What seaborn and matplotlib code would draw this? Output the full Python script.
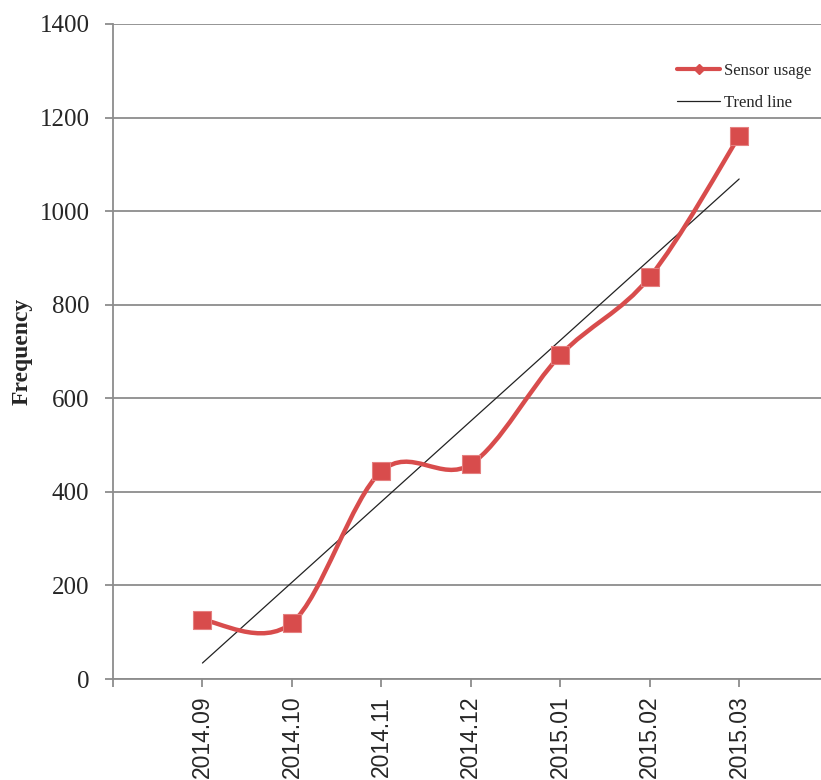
"""
Monthly sensor usage with a smoothed line and a linear trend line.
"""
import matplotlib.pyplot as plt
import numpy as np
import seaborn as sns
from matplotlib.lines import Line2D
from matplotlib.patches import PathPatch
from matplotlib.path import Path

months = ["2014.09", "2014.10", "2014.11", "2014.12", "2015.01", "2015.02", "2015.03"]
usage = [126, 120, 444, 459, 692, 859, 1160]

RED = "#d84c4c"
GRID = "#8c8c8c"

sns.set_style("white")
plt.rcParams["font.family"] = ["Liberation Serif", "DejaVu Serif"]

fig = plt.figure(figsize=(8.21, 7.8), dpi=100)
# the plot area runs past the right edge of the picture, as in the original
ax = fig.add_axes([113 / 821, 101 / 780, 715.6 / 821, 655 / 780])

xs = np.arange(len(months))

# linear trend line fitted to the data
slope, intercept = np.polyfit(xs, usage, 1)
sns.lineplot(x=xs, y=intercept + slope * xs, color="#222222", linewidth=0.9,
             ax=ax, zorder=3)

# smoothed line (Catmull-Rom style bezier through the points)
pts = np.column_stack([xs, usage]).astype(float)
ext = np.vstack([pts[0], pts, pts[-1]])
verts = [pts[0]]
codes = [Path.MOVETO]
for i in range(len(pts) - 1):
    p0, p1, p2, p3 = ext[i], ext[i + 1], ext[i + 2], ext[i + 3]
    verts += [p1 + (p2 - p0) / 6, p2 - (p3 - p1) / 6, p2]
    codes += [Path.CURVE4] * 3
ax.add_patch(PathPatch(Path(verts, codes), fill=False, edgecolor=RED,
                       linewidth=3.2, capstyle="round", zorder=4))

sns.scatterplot(x=xs, y=usage, marker="s", s=150, color=RED,
                edgecolor="#e58080", linewidth=0.8, ax=ax, zorder=5)

ax.set_xlim(-1, 7)
ax.set_ylim(0, 1400)
ax.set_yticks(range(0, 1401, 200))
ax.set_xticks(range(-1, len(months)))
ax.set_xticklabels([""] + months, rotation=90, fontsize=16.5,
                   family=["Liberation Sans", "DejaVu Sans"])
ax.tick_params(axis="y", labelsize=18, length=6, width=1.3, color=GRID,
               direction="out", pad=11, left=True)
ax.tick_params(axis="x", length=6, width=1.3, color=GRID, direction="out",
               pad=6, bottom=True)

ax.yaxis.grid(True, color=GRID, linewidth=1.3)
ax.set_axisbelow(True)
for side in ["top", "right"]:
    ax.spines[side].set_visible(False)
for side in ["left", "bottom"]:
    ax.spines[side].set_color(GRID)
    ax.spines[side].set_linewidth(1.3)

ax.set_xlabel("")
ax.set_ylabel("Frequency", fontsize=17, fontweight="bold")
ax.yaxis.set_label_coords(-0.112, 0.5)

handles = [
    Line2D([], [], color=RED, linewidth=3, marker="D", markersize=5),
    Line2D([], [], color="#222222", linewidth=0.9),
]
fig.legend(handles, ["Sensor usage", "Trend line"], loc="upper left",
           bbox_to_anchor=(662 / 821, 1 - 48 / 780), frameon=False,
           fontsize=12, handlelength=2.6, handletextpad=0.2, labelspacing=0.95)

fig.savefig("out.png", dpi=100)
